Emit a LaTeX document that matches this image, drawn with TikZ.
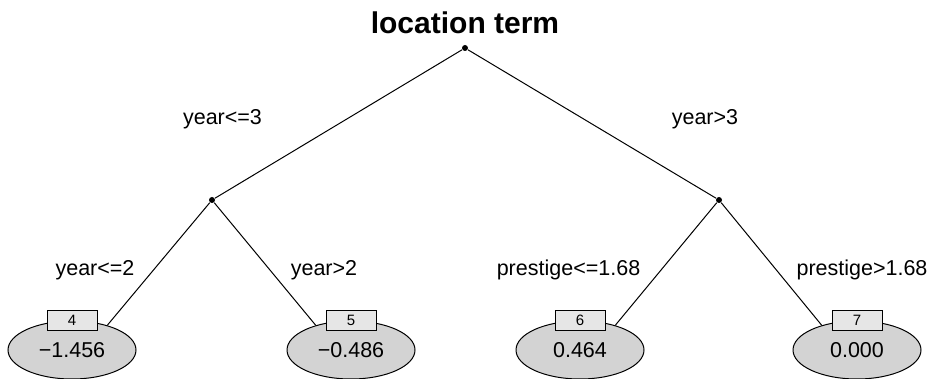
\documentclass[tikz,border=0pt]{standalone}
\usepackage{fontspec}
\setmainfont{Liberation Sans}
\usetikzlibrary{shapes.geometric}
\definecolor{leafgray}{RGB}{211,211,211}
\definecolor{boxgray}{RGB}{230,230,230}
\begin{document}
\begin{tikzpicture}[x=1pt,y=-1pt,line width=1pt,
split/.style={circle,fill,inner sep=0pt,minimum size=6pt},
leaf/.style={ellipse,draw,fill=leafgray,minimum width=128pt,minimum height=58pt,inner sep=0pt,font=\fontsize{21.5}{24}\selectfont},
idbox/.style={draw,fill=boxgray,minimum width=50pt,minimum height=20pt,inner sep=0pt,font=\fontsize{15}{16}\selectfont},
lab/.style={anchor=base,font=\fontsize{21.5}{24}\selectfont}]

\useasboundingbox (0,0) rectangle (934,379);

\draw (465,34) node[anchor=base,font=\bfseries\fontsize{30}{32}\selectfont] (title) {location term};

\draw (465,48) node[split] (n1) {};
\draw (212,200) node[split] (n2) {};
\draw (719,200) node[split] (n3) {};

\draw (72,350) node[leaf] (t4) {−1.456};
\draw (351,350) node[leaf] (t5) {−0.486};
\draw (580,350) node[leaf] (t6) {0.464};
\draw (857,350) node[leaf] (t7) {0.000};

\draw (t4.north) node[idbox] (b4) {4};
\draw (t5.north) node[idbox] (b5) {5};
\draw (t6.north) node[idbox] (b6) {6};
\draw (t7.north) node[idbox] (b7) {7};

\draw (n1) -- (n2);
\draw (n1) -- (n3);
\draw (n2) -- (t4.35);
\draw (n2) -- (t5.145);
\draw (n3) -- (t6.35);
\draw (n3) -- (t7.145);

\draw (222.5,125) node[lab] {year<=3};
\draw (705,125) node[lab] {year>3};
\draw (95,276) node[lab] {year<=2};
\draw (324,276) node[lab] {year>2};
\draw (568.5,276) node[lab] {prestige<=1.68};
\draw (862,276) node[lab] {prestige>1.68};

\end{tikzpicture}
\end{document}
